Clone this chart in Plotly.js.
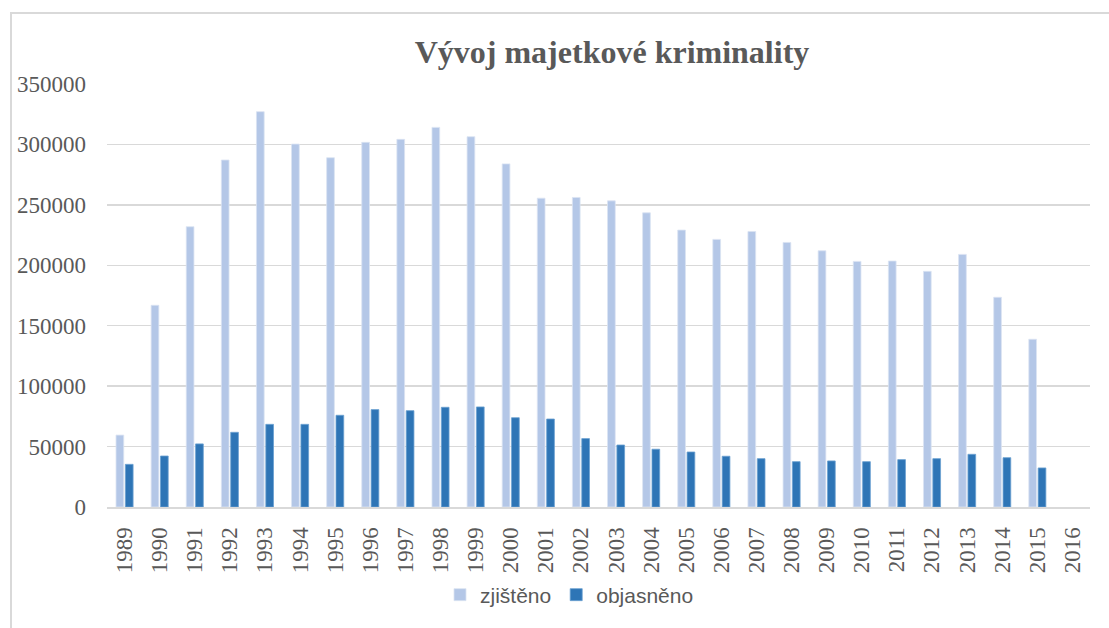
<!DOCTYPE html>
<html>
<head>
<meta charset="utf-8">
<script src="https://cdn.plot.ly/plotly-3.0.1.min.js"></script>
<style>
  html, body { margin: 0; padding: 0; background: #ffffff; overflow: hidden; }
  #frame { position: absolute; left: 10px; top: 12px; width: 1130px; height: 660px; border: 2px solid #D9D9D9; box-sizing: border-box; }
  #chart { position: absolute; left: 0; top: 0; width: 1109px; height: 628px; }
</style>
</head>
<body>
<div id="frame"></div>
<div id="chart"></div>
<script>
const years = ["1989","1990","1991","1992","1993","1994","1995","1996","1997","1998","1999","2000","2001","2002","2003","2004","2005","2006","2007","2008","2009","2010","2011","2012","2013","2014","2015","2016"];
const zjisteno = [59500, 166900, 231900, 287100, 327100, 300300, 289000, 301700, 304200, 314100, 306400, 283900, 255500, 256100, 253300, 243400, 229100, 221400, 228000, 218900, 212000, 203200, 203500, 195000, 209000, 173500, 138800, null];
const objasneno = [35300, 42200, 52200, 61800, 68400, 68400, 75900, 80600, 79700, 82500, 82800, 73900, 72800, 56600, 51300, 47800, 45500, 42000, 40000, 37500, 38100, 37500, 39200, 40000, 43600, 40800, 32300, null];
const seriesNames = ["zjištěno", "objasněno"];
const titleText = "Vývoj majetkové kriminality";

const textColor = "#595959";
const gridColor = "#D9D9D9";
const serif = "'Liberation Serif', 'Times New Roman', serif";
const sans = "'Liberation Sans', Arial, sans-serif";

const traces = [
  {
    type: "bar", name: seriesNames[0], x: years, y: zjisteno,
    marker: { color: "#B4C7E7", line: { color: "#DAE3F3", width: 0.8 } },
    hoverinfo: "x+y"
  },
  {
    type: "bar", name: seriesNames[1], x: years, y: objasneno,
    marker: { color: "#2E75B6", line: { color: "#6A9FD0", width: 0.8 } },
    hoverinfo: "x+y"
  }
];

const layout = {
  width: 1109, height: 628,
  margin: { l: 107, r: 19, t: 84, b: 121 },
  font: { family: serif, size: 23, color: textColor },
  paper_bgcolor: "rgba(0,0,0,0)",
  plot_bgcolor: "rgba(0,0,0,0)",
  barmode: "group",
  bargap: 0.467,
  bargroupgap: 0.176,
  title: {
    text: "<b>" + titleText + "</b>",
    font: { family: serif, size: 32, color: textColor },
    x: 612 / 1109, xref: "container", xanchor: "center",
    y: 1 - 52 / 628, yref: "container", yanchor: "middle"
  },
  xaxis: {
    type: "category",
    tickangle: -90,
    tickfont: { family: serif, size: 23, color: textColor },
    showgrid: false,
    showline: true, linecolor: gridColor, linewidth: 2,
    ticks: "",
    ticklabelstandoff: 9,
    zeroline: false
  },
  yaxis: {
    range: [0, 350000],
    dtick: 50000,
    tick0: 0,
    tickformat: "d",
    tickfont: { family: serif, size: 23, color: textColor },
    showgrid: true, gridcolor: gridColor, gridwidth: 1.5,
    zeroline: false,
    showline: false,
    ticks: "",
    ticklabelstandoff: 20
  },
  legend: {
    orientation: "h",
    x: (569.5 - 107) / 983, xanchor: "center",
    y: (507 - 595) / 423, yanchor: "middle",
    font: { family: sans, size: 21, color: textColor },
    itemwidth: 30,
    traceorder: "normal"
  },
  showlegend: true
};

Plotly.newPlot("chart", traces, layout, { displayModeBar: false, staticPlot: true });
</script>
</body>
</html>
